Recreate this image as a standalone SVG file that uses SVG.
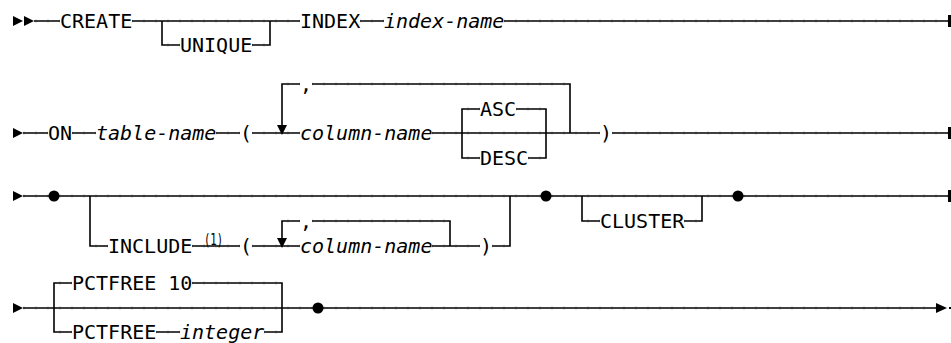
<svg xmlns="http://www.w3.org/2000/svg" xmlns:xlink="http://www.w3.org/1999/xlink" width="951" height="343" viewBox="0 0 951 343">
<style>
.t{font-family:"DejaVu Sans Mono","Liberation Mono",monospace;font-size:20px;fill:#000}
.i{font-style:italic}
.sup{font-family:"DejaVu Sans Mono","Liberation Mono",monospace;font-size:15px;fill:#000}
.wire{fill:none;stroke:#000;stroke-width:1.6}
.tick{fill:none;stroke:url(#tk);stroke-width:4}
.mk{fill:#000;stroke:none}
</style>
<defs>
<pattern id="tk" patternUnits="userSpaceOnUse" x="-0.5" y="0" width="12" height="6">
<rect x="0" y="0" width="1" height="6" fill="#cfcfcf"/>
</pattern>
<g id="wirepaths">
<!-- row 1 -->
<path d="M34,21 H60 M132,21 H300 M360,21 H384 M504,21 H948"/>
<path d="M162,21 V45 H180 M252,45 H270 V21"/>
<!-- row 2 -->
<path d="M23,133 H48 M72,133 H96 M216,133 H240 M252,133 H300 M432,133 H600 M612,133 H948"/>
<path d="M282,126 V84 H300 M312,84 H570 V133"/>
<path d="M462,133 V109 H480 M516,109 H546 V133 M462,133 V158 H480 M528,158 H546 V133"/>
<!-- row 3 -->
<path d="M23,196 H948"/>
<path d="M90,196 V246 H108 M192,246 H240 M252,246 H300 M432,246 H480 M492,246 H510 V196"/>
<path d="M282,239 V221 H300 M312,221 H450 V246"/>
<path d="M582,196 V221 H600 M684,221 H702 V196"/>
<!-- row 4 -->
<path d="M23,308 H937"/>
<path d="M54,308 V283 H72 M192,283 H282 V308 M54,308 V332 H72 M156,332 H180 M264,332 H282 V308"/>
</g>
</defs>

<g id="connectors">
<use xlink:href="#wirepaths" href="#wirepaths" class="tick"/>
<use xlink:href="#wirepaths" href="#wirepaths" class="wire"/>
<!-- start / end markers -->
<polygon class="mk" points="13,16 23,21 13,26"/>
<polygon class="mk" points="24,16 34,21 24,26"/>
<rect class="mk" x="948" y="15" width="3" height="12"/>
<polygon class="mk" points="13,128 23,133 13,138"/>
<rect class="mk" x="948" y="127" width="3" height="12"/>
<polygon class="mk" points="13,191 23,196 13,201"/>
<rect class="mk" x="948" y="190" width="3" height="12"/>
<polygon class="mk" points="13,303 23,308 13,313"/>
<polygon class="mk" points="936,303 947,308 936,313"/>
<rect class="mk" x="949" y="307" width="2" height="2"/>
<!-- repeat arrows -->
<polygon class="mk" points="277,125 287,125 282,135"/>
<polygon class="mk" points="277,238 287,238 282,248"/>
<!-- bullets -->
<circle class="mk" cx="54" cy="196" r="5.5"/>
<circle class="mk" cx="546" cy="196" r="5.5"/>
<circle class="mk" cx="738" cy="196" r="5.5"/>
<circle class="mk" cx="318" cy="308" r="5.5"/>
</g>

<g id="n-create"><text class="t" x="60" y="28">CREATE</text></g>
<g id="n-unique"><text class="t" x="180" y="52">UNIQUE</text></g>
<g id="n-index"><text class="t" x="300" y="28">INDEX</text></g>
<g id="n-index-name"><text class="t i" x="384" y="28">index-name</text></g>

<g id="n-on"><text class="t" x="48" y="140">ON</text></g>
<g id="n-table-name"><text class="t i" x="96" y="140">table-name</text></g>
<g id="n-lparen1"><text class="t" x="240" y="140">(</text></g>
<g id="n-comma1"><text class="t" x="300" y="91">,</text></g>
<g id="n-column-name1"><text class="t i" x="300" y="140">column-name</text></g>
<g id="n-asc"><text class="t" x="480" y="116">ASC</text></g>
<g id="n-desc"><text class="t" x="480" y="165">DESC</text></g>
<g id="n-rparen1"><text class="t" x="600" y="140">)</text></g>

<g id="n-include"><text class="t" x="108" y="253">INCLUDE</text></g>
<g id="n-note1"><text class="sup" x="204" y="245" textLength="19" lengthAdjust="spacingAndGlyphs">(1)</text></g>
<g id="n-lparen2"><text class="t" x="240" y="253">(</text></g>
<g id="n-comma2"><text class="t" x="300" y="228">,</text></g>
<g id="n-column-name2"><text class="t i" x="300" y="253">column-name</text></g>
<g id="n-rparen2"><text class="t" x="480" y="253">)</text></g>
<g id="n-cluster"><text class="t" x="600" y="228">CLUSTER</text></g>

<g id="n-pctfree10"><text class="t" x="72" y="290">PCTFREE 10</text></g>
<g id="n-pctfree"><text class="t" x="72" y="339">PCTFREE</text></g>
<g id="n-integer"><text class="t i" x="180" y="339">integer</text></g>
</svg>
